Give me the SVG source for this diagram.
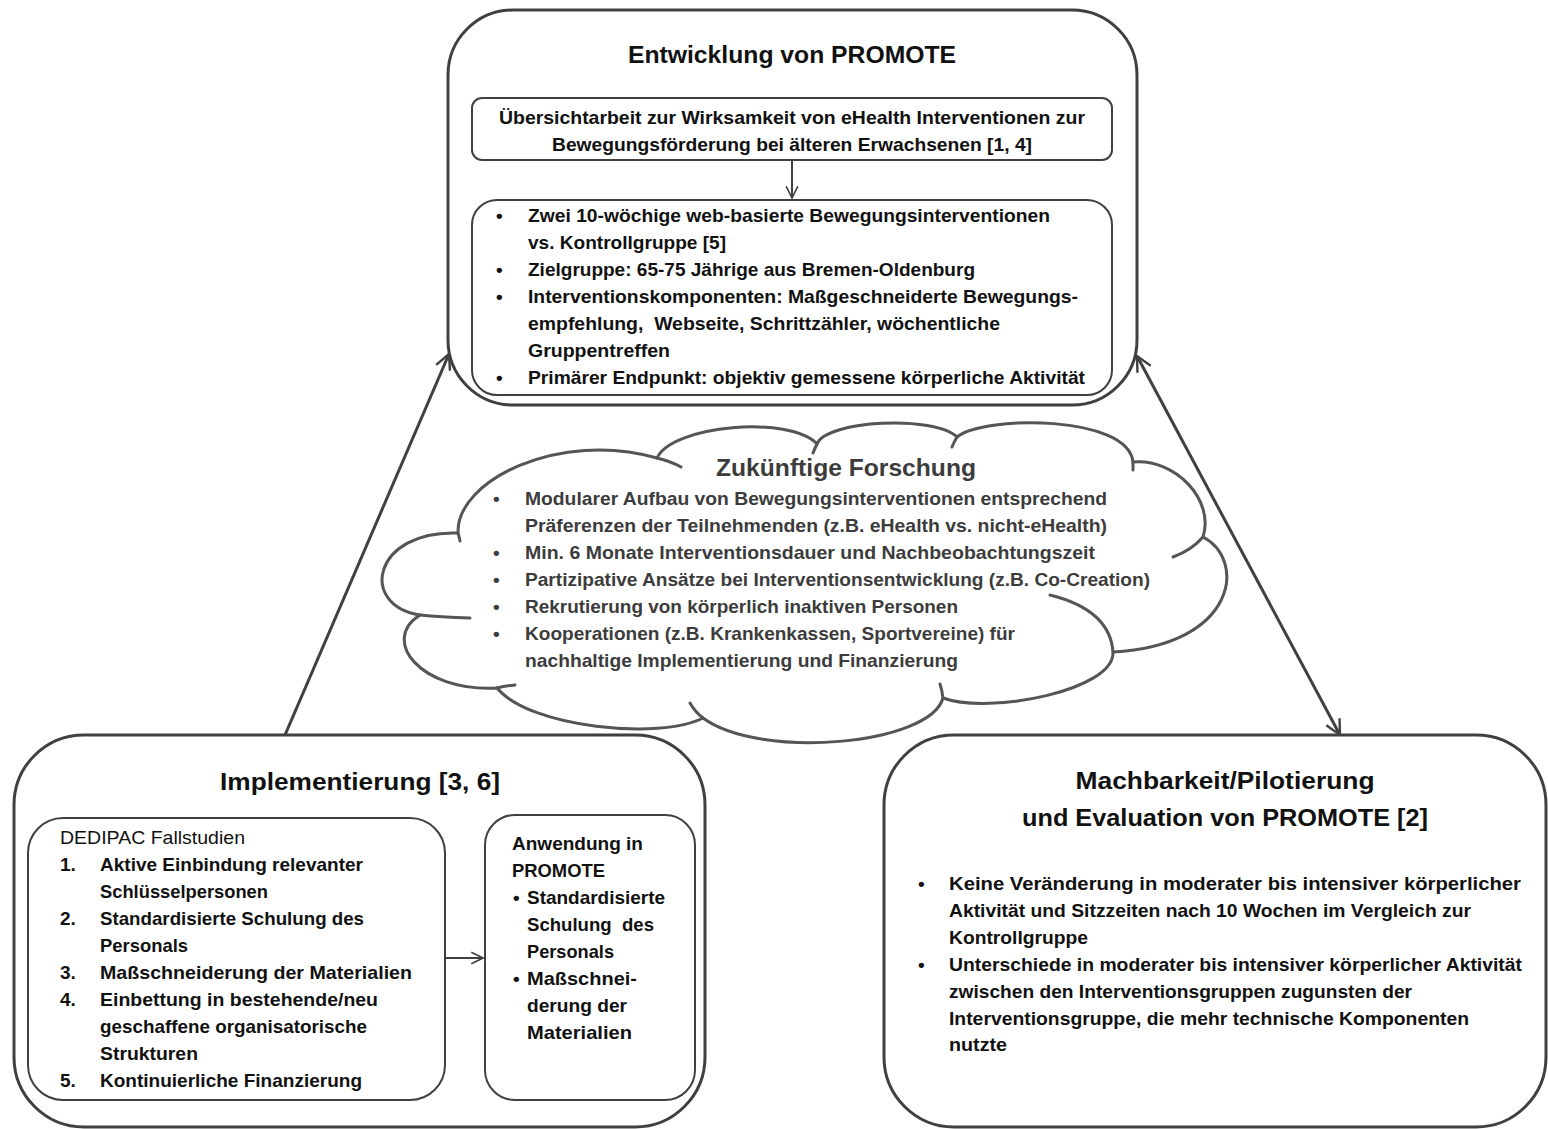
<svg xmlns="http://www.w3.org/2000/svg" width="1548" height="1129" viewBox="0 0 1548 1129">
<defs>
<style>
text{font-family:"Liberation Sans",Arial,sans-serif;fill:#111;white-space:pre;}
.t{font-size:23px;font-weight:bold;text-anchor:middle;}
.b{font-size:19px;font-weight:bold;}
.r{font-size:19px;}
.c{fill:#3c3c3c;}
.box{fill:#fff;stroke:#404040;stroke-width:3;}
.inner{fill:#fff;stroke:#404040;stroke-width:2;}
.cl{fill:#fff;stroke:#555;stroke-width:3;stroke-linecap:round;}
.tick{fill:none;stroke:#555;stroke-width:3;stroke-linecap:round;}
.con{stroke:#404040;stroke-width:3;fill:none;}
.con2{stroke:#404040;stroke-width:2;fill:none;}
</style>
<marker id="ah" viewBox="0 0 12 12" refX="11" refY="6" markerWidth="18" markerHeight="18" markerUnits="userSpaceOnUse" orient="auto-start-reverse">
<path d="M1,1 L11,6 L1,11" fill="none" stroke="#404040" stroke-width="1.6"/>
</marker>
<marker id="ah2" viewBox="0 0 12 12" refX="11" refY="6" markerWidth="14" markerHeight="14" markerUnits="userSpaceOnUse" orient="auto">
<path d="M1,1 L11,6 L1,11" fill="none" stroke="#404040" stroke-width="1.4"/>
</marker>
</defs>
<rect width="1548" height="1129" fill="#fff"/>

<g id="entwicklung">
<rect class="box" x="448" y="10" width="689" height="395" rx="65"/>
<text class="t" x="792" y="63" textLength="328" lengthAdjust="spacingAndGlyphs">Entwicklung von PROMOTE</text>
<g id="uebersicht">
<rect class="inner" x="472" y="98" width="640" height="62" rx="10"/>
<text class="b" x="792" y="124" text-anchor="middle" textLength="586" lengthAdjust="spacingAndGlyphs">Übersichtarbeit zur Wirksamkeit von eHealth Interventionen zur</text>
<text class="b" x="792" y="151" text-anchor="middle" textLength="480" lengthAdjust="spacingAndGlyphs">Bewegungsförderung bei älteren Erwachsenen [1, 4]</text>
</g>
<g id="studie">
<rect class="inner" x="472" y="200" width="640" height="195" rx="25"/>
<text class="b" x="496" y="222">•</text>
<text class="b" x="528" y="222" textLength="522" lengthAdjust="spacingAndGlyphs">Zwei 10-wöchige web-basierte Bewegungsinterventionen</text>
<text class="b" x="528" y="249" textLength="198" lengthAdjust="spacingAndGlyphs">vs. Kontrollgruppe [5]</text>
<text class="b" x="496" y="276">•</text>
<text class="b" x="528" y="276" textLength="447" lengthAdjust="spacingAndGlyphs">Zielgruppe: 65-75 Jährige aus Bremen-Oldenburg</text>
<text class="b" x="496" y="303">•</text>
<text class="b" x="528" y="303" textLength="550" lengthAdjust="spacingAndGlyphs">Interventionskomponenten: Maßgeschneiderte Bewegungs-</text>
<text class="b" x="528" y="330" textLength="472" lengthAdjust="spacingAndGlyphs">empfehlung,&#160; Webseite, Schrittzähler, wöchentliche</text>
<text class="b" x="528" y="357" textLength="142" lengthAdjust="spacingAndGlyphs">Gruppentreffen</text>
<text class="b" x="496" y="384">•</text>
<text class="b" x="528" y="384" textLength="557" lengthAdjust="spacingAndGlyphs">Primärer Endpunkt: objektiv gemessene körperliche Aktivität</text>
</g>
</g>

<g id="forschung">
<path class="cl" d="M458,533 C456,480 560,430 657,458 C672,425 790,415 817,444 C826,420 935,415 957,437 C985,415 1128,415 1133,462 C1175,458 1215,500 1203,537 C1247,560 1237,645 1113,652 C1115,690 990,715 943,698 C930,745 760,760 703,718 C660,740 530,728 497,688 C420,692 380,640 420,615 C358,605 373,530 458,533 Z"/>
<path class="tick" d="M458,533 Q459,536 460,541 M657,458 Q670,461 681,467 M817,444 Q815,448 813,453 M957,437 Q954,442 952,447 M1133,462 L1133,470 M1203,537 Q1192,550 1173,557 M1113,652 Q1110,610 1050,595 M943,698 Q942,690 940,684 M703,718 Q695,712 690,703 M497,688 Q505,686 515,685 M420,615 Q440,617 470,618"/>
<text class="t c" x="846" y="476" textLength="260" lengthAdjust="spacingAndGlyphs">Zukünftige Forschung</text>
<text class="b c" x="493" y="505">•</text>
<text class="b c" x="525" y="505" textLength="582" lengthAdjust="spacingAndGlyphs">Modularer Aufbau von Bewegungsinterventionen entsprechend</text>
<text class="b c" x="525" y="532" textLength="582" lengthAdjust="spacingAndGlyphs">Präferenzen der Teilnehmenden (z.B. eHealth vs. nicht-eHealth)</text>
<text class="b c" x="493" y="559">•</text>
<text class="b c" x="525" y="559" textLength="570" lengthAdjust="spacingAndGlyphs">Min. 6 Monate Interventionsdauer und Nachbeobachtungszeit</text>
<text class="b c" x="493" y="586">•</text>
<text class="b c" x="525" y="586" textLength="625" lengthAdjust="spacingAndGlyphs">Partizipative Ansätze bei Interventionsentwicklung (z.B. Co-Creation)</text>
<text class="b c" x="493" y="613">•</text>
<text class="b c" x="525" y="613" textLength="433" lengthAdjust="spacingAndGlyphs">Rekrutierung von körperlich inaktiven Personen</text>
<text class="b c" x="493" y="640">•</text>
<text class="b c" x="525" y="640" textLength="490" lengthAdjust="spacingAndGlyphs">Kooperationen (z.B. Krankenkassen, Sportvereine) für</text>
<text class="b c" x="525" y="667" textLength="433" lengthAdjust="spacingAndGlyphs">nachhaltige Implementierung und Finanzierung</text>
</g>

<g id="implementierung">
<rect class="box" x="14" y="735" width="691" height="392" rx="70"/>
<text class="t" x="360" y="790" textLength="280" lengthAdjust="spacingAndGlyphs">Implementierung [3, 6]</text>
<g id="dedipac">
<rect class="inner" x="28" y="818" width="417" height="282" rx="35"/>
<text class="r" x="60" y="844" textLength="185" lengthAdjust="spacingAndGlyphs">DEDIPAC Fallstudien</text>
<text class="b" x="60" y="871">1.</text>
<text class="b" x="100" y="871" textLength="263" lengthAdjust="spacingAndGlyphs">Aktive Einbindung relevanter</text>
<text class="b" x="100" y="898" textLength="168" lengthAdjust="spacingAndGlyphs">Schlüsselpersonen</text>
<text class="b" x="60" y="925">2.</text>
<text class="b" x="100" y="925" textLength="264" lengthAdjust="spacingAndGlyphs">Standardisierte Schulung des</text>
<text class="b" x="100" y="952" textLength="88" lengthAdjust="spacingAndGlyphs">Personals</text>
<text class="b" x="60" y="979">3.</text>
<text class="b" x="100" y="979" textLength="312" lengthAdjust="spacingAndGlyphs">Maßschneiderung der Materialien</text>
<text class="b" x="60" y="1006">4.</text>
<text class="b" x="100" y="1006" textLength="278" lengthAdjust="spacingAndGlyphs">Einbettung in bestehende/neu</text>
<text class="b" x="100" y="1033" textLength="267" lengthAdjust="spacingAndGlyphs">geschaffene organisatorische</text>
<text class="b" x="100" y="1060" textLength="98" lengthAdjust="spacingAndGlyphs">Strukturen</text>
<text class="b" x="60" y="1087">5.</text>
<text class="b" x="100" y="1087" textLength="262" lengthAdjust="spacingAndGlyphs">Kontinuierliche Finanzierung</text>
</g>
<g id="anwendung">
<rect class="inner" x="485" y="815" width="210" height="285" rx="30"/>
<text class="b" x="512" y="850" textLength="131" lengthAdjust="spacingAndGlyphs">Anwendung in</text>
<text class="b" x="512" y="877" textLength="93" lengthAdjust="spacingAndGlyphs">PROMOTE</text>
<text class="b" x="513" y="904">•</text>
<text class="b" x="527" y="904" textLength="138" lengthAdjust="spacingAndGlyphs">Standardisierte</text>
<text class="b" x="527" y="931" textLength="127" lengthAdjust="spacingAndGlyphs">Schulung&#160; des</text>
<text class="b" x="527" y="958" textLength="87" lengthAdjust="spacingAndGlyphs">Personals</text>
<text class="b" x="513" y="985">•</text>
<text class="b" x="527" y="985" textLength="110" lengthAdjust="spacingAndGlyphs">Maßschnei-</text>
<text class="b" x="527" y="1012" textLength="100" lengthAdjust="spacingAndGlyphs">derung der</text>
<text class="b" x="527" y="1039" textLength="105" lengthAdjust="spacingAndGlyphs">Materialien</text>
</g>
</g>

<g id="machbarkeit">
<rect class="box" x="884" y="735" width="662" height="392" rx="70"/>
<text class="t" x="1225" y="789" textLength="299" lengthAdjust="spacingAndGlyphs">Machbarkeit/Pilotierung</text>
<text class="t" x="1225" y="826" textLength="406" lengthAdjust="spacingAndGlyphs">und Evaluation von PROMOTE [2]</text>
<text class="b" x="918" y="890">•</text>
<text class="b" x="949" y="890" textLength="572" lengthAdjust="spacingAndGlyphs">Keine Veränderung in moderater bis intensiver körperlicher</text>
<text class="b" x="949" y="917" textLength="522" lengthAdjust="spacingAndGlyphs">Aktivität und Sitzzeiten nach 10 Wochen im Vergleich zur</text>
<text class="b" x="949" y="944" textLength="139" lengthAdjust="spacingAndGlyphs">Kontrollgruppe</text>
<text class="b" x="918" y="971">•</text>
<text class="b" x="949" y="971" textLength="573" lengthAdjust="spacingAndGlyphs">Unterschiede in moderater bis intensiver körperlicher Aktivität</text>
<text class="b" x="949" y="998" textLength="463" lengthAdjust="spacingAndGlyphs">zwischen den Interventionsgruppen zugunsten der</text>
<text class="b" x="949" y="1025" textLength="520" lengthAdjust="spacingAndGlyphs">Interventionsgruppe, die mehr technische Komponenten</text>
<text class="b" x="949" y="1051" textLength="58" lengthAdjust="spacingAndGlyphs">nutzte</text>
</g>

<g id="connectors">
<line class="con" x1="285" y1="735" x2="449" y2="354" marker-end="url(#ah)"/>
<line class="con" x1="1137" y1="356" x2="1340" y2="735" marker-start="url(#ah)" marker-end="url(#ah)"/>
<line class="con2" x1="792" y1="161" x2="792" y2="198" marker-end="url(#ah2)"/>
<line class="con2" x1="445" y1="958" x2="483" y2="958" marker-end="url(#ah2)"/>
</g>
</svg>
